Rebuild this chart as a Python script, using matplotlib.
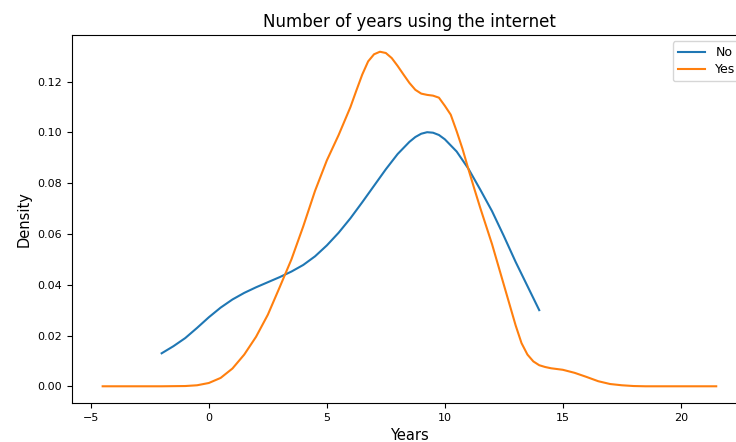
import numpy as np
import matplotlib
matplotlib.use("Agg")
import matplotlib.pyplot as plt

# density curves (years, density)
no_years = [-2.0, -1.5, -1.0, -0.5, 0.0, 0.5, 1.0, 1.5, 2.0, 2.5, 3.0, 3.5,
            4.0, 4.5, 5.0, 5.5, 6.0, 6.5, 7.0, 7.5, 8.0, 8.5, 8.75, 9.0, 9.25,
            9.5, 9.75, 10.0, 10.5, 11.0, 11.5, 12.0, 12.5, 13.0, 13.5, 14.0]
no_density = [0.0130, 0.0158, 0.0190, 0.0230, 0.0272, 0.0310, 0.0342, 0.0368,
              0.0390, 0.0410, 0.0430, 0.0452, 0.0478, 0.0512, 0.0555, 0.0605,
              0.0662, 0.0725, 0.0790, 0.0855, 0.0915, 0.0963, 0.0982, 0.0995,
              0.1001, 0.0999, 0.0990, 0.0973, 0.0925, 0.0857, 0.0775, 0.0690,
              0.0592, 0.0490, 0.0395, 0.0300]

yes_years = [-4.5, -3.0, -2.0, -1.0, -0.5, 0.0, 0.5, 1.0, 1.5, 2.0, 2.5, 3.0,
             3.5, 4.0, 4.5, 5.0, 5.5, 6.0, 6.25, 6.5, 6.75, 7.0, 7.25, 7.5,
             7.75, 8.0, 8.25, 8.5, 8.75, 9.0, 9.25, 9.5, 9.75, 10.0, 10.25,
             10.5, 10.75, 11.0, 11.25, 11.5, 12.0, 12.5, 13.0, 13.25, 13.5,
             13.75, 14.0, 14.25, 14.5, 15.0, 15.5, 16.0, 16.5, 17.0, 17.5,
             18.0, 18.5, 19.0, 20.0, 21.5]
yes_density = [0.0, 0.0, 0.0, 0.0001, 0.0004, 0.0013, 0.0033, 0.0070, 0.0125,
               0.0195, 0.0282, 0.0390, 0.0500, 0.0630, 0.0770, 0.0890, 0.0990,
               0.1100, 0.1165, 0.1228, 0.1280, 0.1308, 0.1318, 0.1313, 0.1293,
               0.1262, 0.1228, 0.1195, 0.1168, 0.1153, 0.1148, 0.1145, 0.1137,
               0.1105, 0.1070, 0.1005, 0.0935, 0.0855, 0.0778, 0.0703, 0.0560,
               0.0400, 0.0240, 0.0170, 0.0125, 0.0098, 0.0083, 0.0076, 0.0071,
               0.0065, 0.0053, 0.0037, 0.0020, 0.0009, 0.0004, 0.0001, 0.0,
               0.0, 0.0, 0.0]

fig = plt.figure(figsize=(7.36, 4.42), dpi=100)
# axes run past the right edge, as in the reference
ax = fig.add_axes([0.0978, 0.0882, 0.917, 0.8326])

ax.plot(no_years, no_density, color="#1f77b4", linewidth=1.5, label="No")
ax.plot(yes_years, yes_density, color="#ff7f0e", linewidth=1.5, label="Yes")

ax.set_title("Number of years using the internet", fontsize=12)
ax.set_xlabel("Years", fontsize=10.5)
ax.set_ylabel("Density", fontsize=10.5)
ax.set_xticks([-5, 0, 5, 10, 15, 20])
ax.set_yticks([0.0, 0.02, 0.04, 0.06, 0.08, 0.10, 0.12])
ax.tick_params(labelsize=8)
ax.legend(loc="upper right", fontsize=9, handlelength=2.2, labelspacing=0.3)

fig.savefig("out.png", dpi=100)
